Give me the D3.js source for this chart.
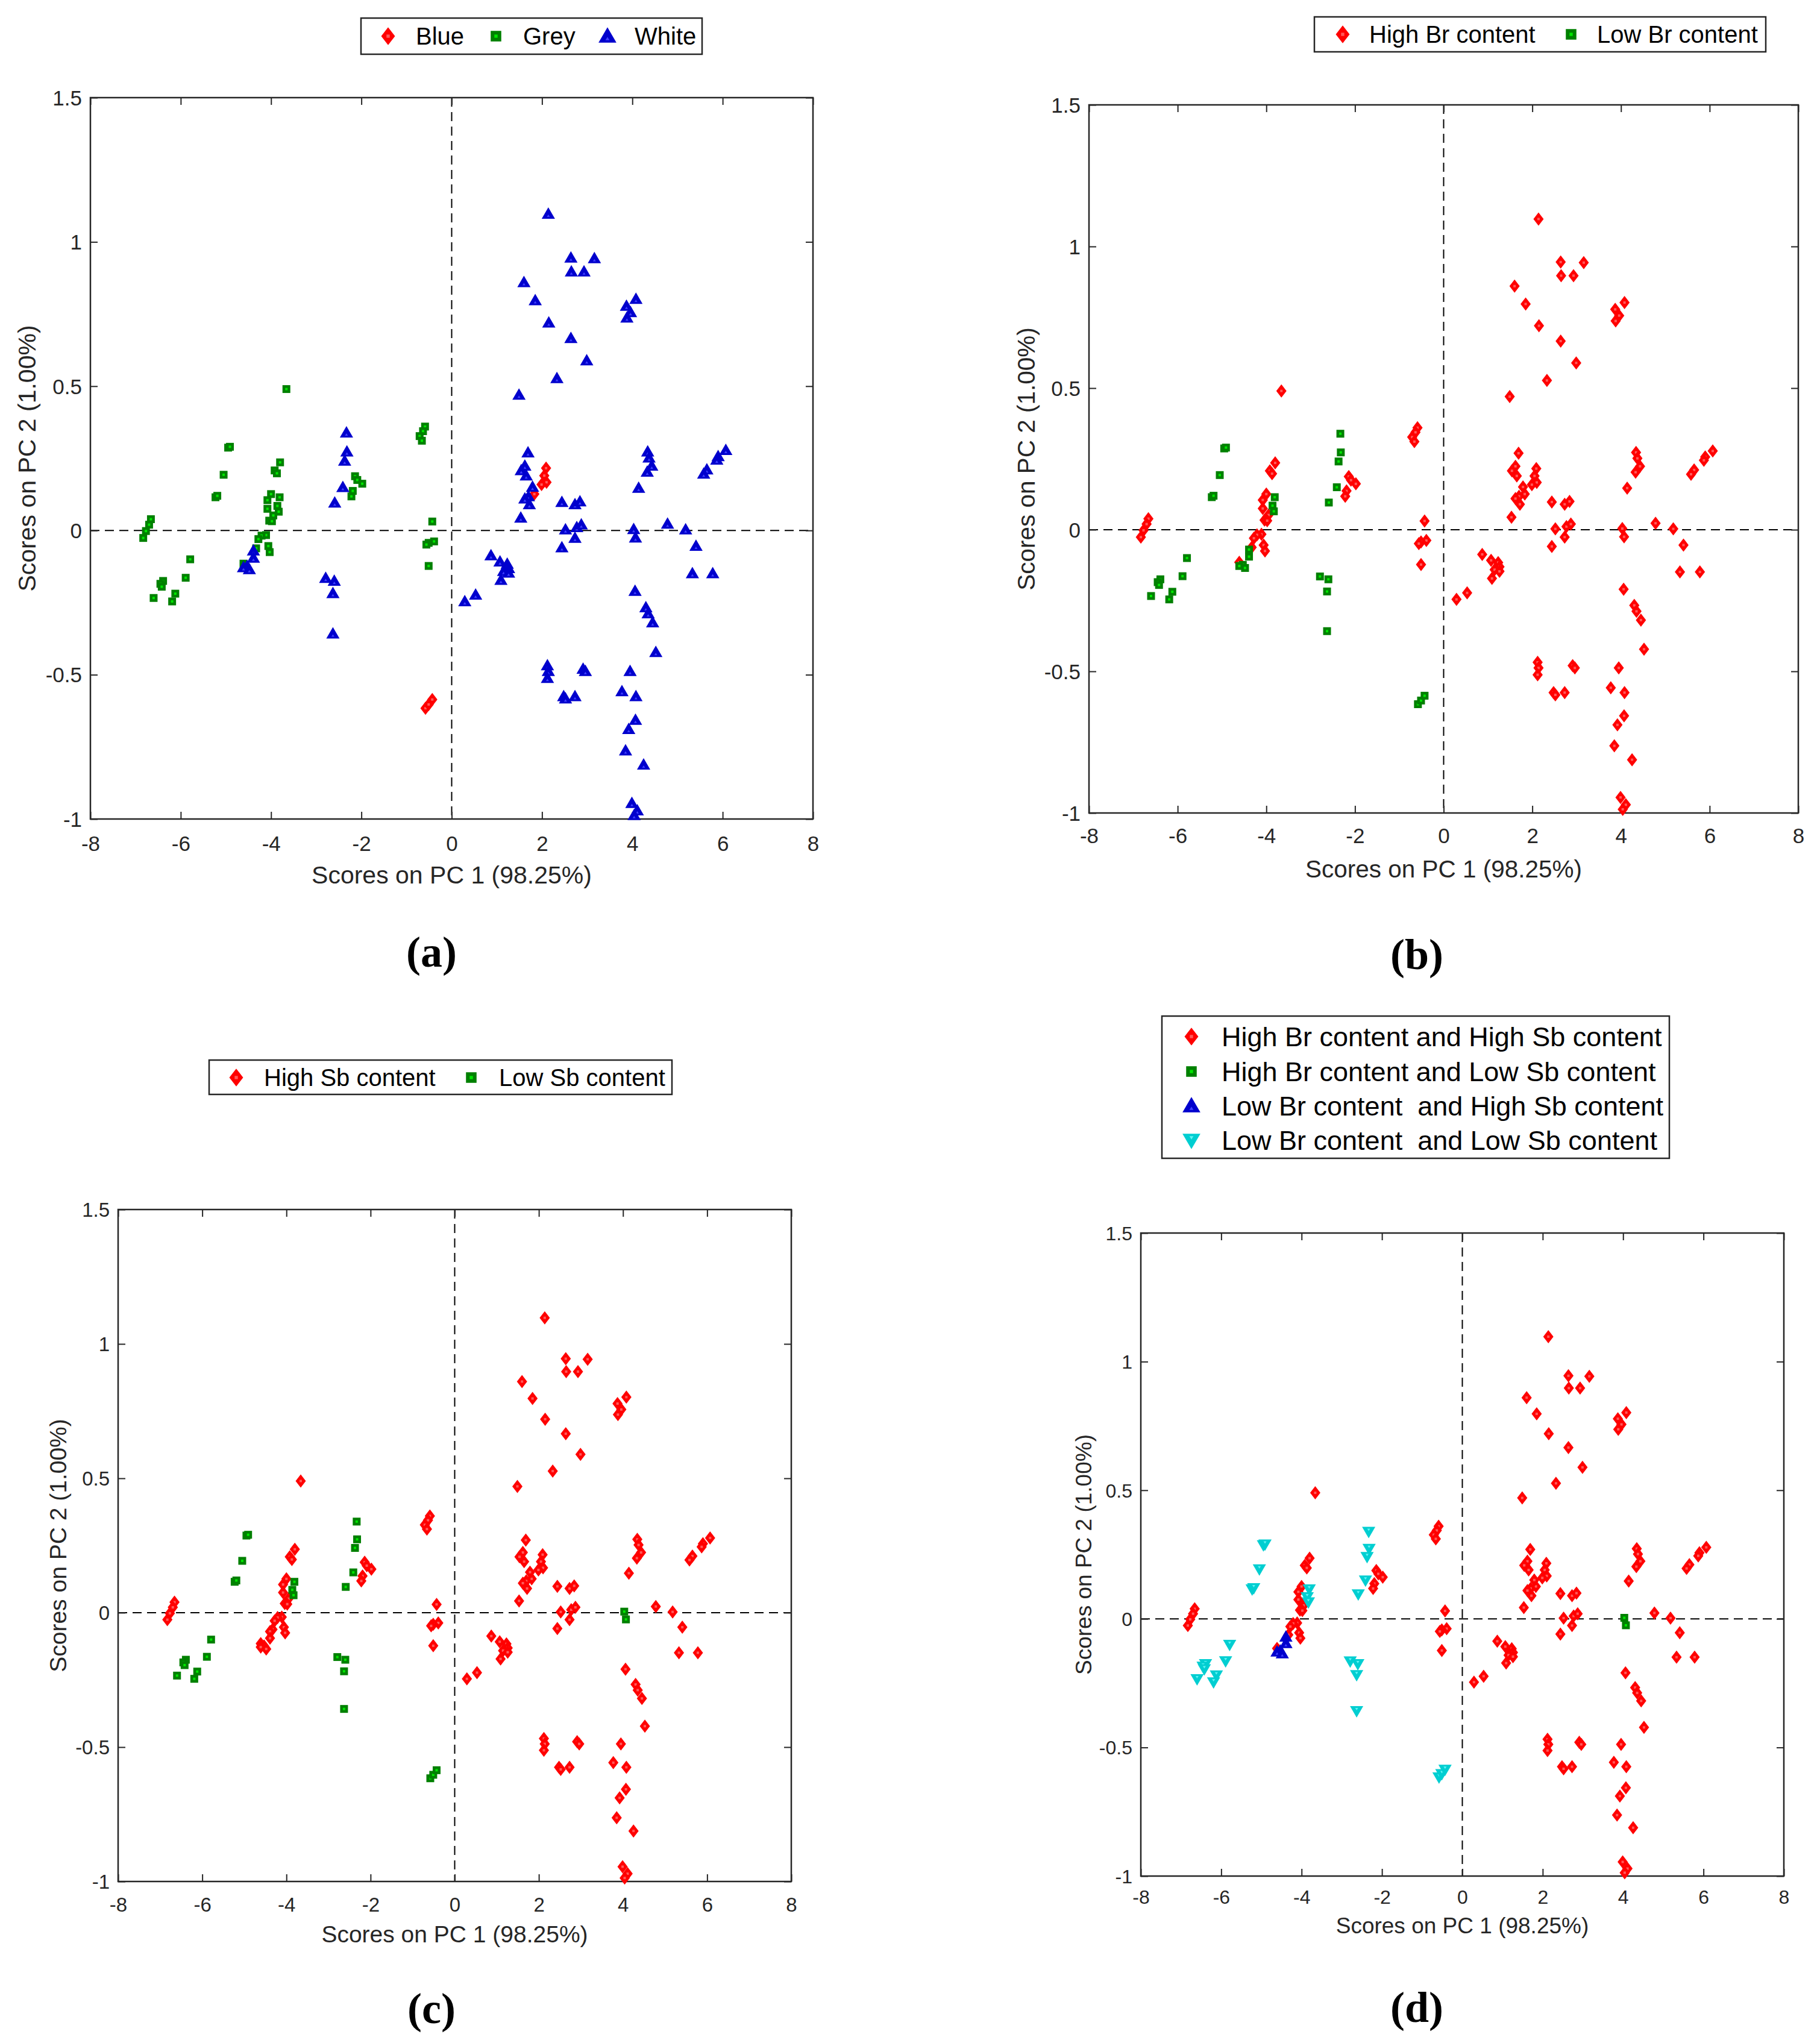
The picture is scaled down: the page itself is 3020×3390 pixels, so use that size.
<!DOCTYPE html>
<html>
<head>
<meta charset="utf-8">
<script src="https://cdn.jsdelivr.net/npm/d3@7"></script>
<style>
  body { margin: 0; background: #fff; }
  text { font-family: "Liberation Sans", Arial, sans-serif; fill: #262626; }
  .tag { font-family: "Liberation Serif", "Times New Roman", serif; font-weight: bold; fill: #000; }
  .leg { fill: #000; white-space: pre; }
</style>
</head>
<body>
<div id="chart"></div>
<script>
const xTicks = [-8, -6, -4, -2, 0, 2, 4, 6, 8];
const yTicks = [-1, -0.5, 0, 0.5, 1, 1.5];

// PCA scores [PC1, PC2], grouped by sample colour (panel a) and Br/Sb class (panel d)
const whiteHH = [
  [2.14, 1.097], [2.64, 0.945], [3.16, 0.943], [2.65, 0.897], [2.93, 0.897], [1.60, 0.86], [1.85, 0.797],
  [4.08, 0.802], [3.87, 0.778], [3.96, 0.756], [3.88, 0.737], [2.15, 0.72], [2.64, 0.666], [2.99, 0.589],
  [2.33, 0.527], [1.49, 0.47], [1.69, 0.27], [1.62, 0.224], [1.54, 0.208], [1.65, 0.19], [1.79, 0.151],
  [1.70, 0.118], [1.62, 0.11], [1.72, 0.09], [1.53, 0.044], [2.44, 0.098], [2.73, 0.09], [2.84, 0.10],
  [2.52, 0.003], [2.77, 0.011], [2.87, 0.02], [2.73, -0.026], [2.44, -0.059], [4.34, 0.273], [4.37, 0.252],
  [4.43, 0.224], [4.33, 0.203], [4.14, 0.147], [6.07, 0.278], [5.90, 0.257], [5.87, 0.245], [5.65, 0.211],
  [5.58, 0.196], [4.78, 0.023], [5.18, 0.003], [5.41, -0.054], [5.33, -0.149], [5.78, -0.149],
  [0.87, -0.087], [1.07, -0.108], [1.23, -0.116], [1.26, -0.131], [1.15, -0.141], [1.09, -0.172],
  [1.26, -0.147], [0.53, -0.223], [0.29, -0.246], [4.06, -0.21], [4.30, -0.267], [4.35, -0.288],
  [4.45, -0.319], [4.52, -0.422], [2.12, -0.468], [2.14, -0.488], [2.12, -0.512], [2.91, -0.48],
  [2.96, -0.488], [3.95, -0.488], [2.48, -0.575], [2.52, -0.583], [2.73, -0.575], [3.77, -0.558],
  [4.08, -0.575], [4.07, -0.657], [3.92, -0.689], [3.85, -0.763], [4.25, -0.812], [3.99, -0.945],
  [4.11, -0.971], [4.04, -0.987]
];
const whiteHL = [[4.03, 0.004], [4.07, -0.025]];
const whiteLH = [[-4.39, -0.07], [-4.39, -0.095], [-4.53, -0.124], [-4.61, -0.128], [-4.48, -0.135]];
const whiteLL = [
  [-2.33, 0.339], [-2.32, 0.273], [-2.37, 0.241], [-2.41, 0.150], [-2.59, 0.096],
  [-2.79, -0.165], [-2.60, -0.175], [-2.63, -0.218], [-2.63, -0.358]
];
const blueHH = [[2.09, 0.216], [2.05, 0.19], [2.10, 0.167], [1.99, 0.159], [1.83, 0.126]];
const blueLL = [[-0.58, -0.616], [-0.51, -0.603], [-0.43, -0.586]];
const greyHH = [
  [-6.66, 0.039], [-6.70, 0.02], [-6.77, -0.002], [-6.83, -0.026], [-3.66, 0.49], [-3.80, 0.236],
  [-3.92, 0.208], [-3.87, 0.198], [-4.00, 0.126], [-4.08, 0.105], [-4.08, 0.075], [-3.95, 0.052],
  [-4.04, 0.034], [-3.98, 0.032], [-4.11, -0.016], [-4.21, -0.018], [-4.28, -0.03], [-4.33, -0.062],
  [-4.06, -0.054], [-4.03, -0.075], [-4.61, -0.115], [-0.59, 0.36], [-0.635, 0.344], [-0.71, 0.327],
  [-0.66, 0.311], [-2.14, 0.188], [-2.09, 0.175], [-1.98, 0.162], [-2.19, 0.137], [-2.22, 0.118],
  [-0.43, 0.031], [-0.39, -0.038], [-0.51, -0.043], [-0.56, -0.049], [-0.51, -0.123]
];
const greyLL = [
  [-5.79, -0.10], [-5.89, -0.164], [-6.39, -0.175], [-6.45, -0.185], [-6.42, -0.195], [-6.60, -0.234],
  [-6.12, -0.219], [-6.19, -0.246], [-4.95, 0.287], [-4.91, 0.29], [-5.05, 0.193], [-5.23, 0.115],
  [-5.19, 0.12], [-3.81, 0.115], [-3.86, 0.085], [-3.83, 0.065]
];

const groups = [
  { pts: blueHH, colour: "Blue", br: "High", sb: "High" },
  { pts: blueLL, colour: "Blue", br: "Low", sb: "Low" },
  { pts: greyHH, colour: "Grey", br: "High", sb: "High" },
  { pts: greyLL, colour: "Grey", br: "Low", sb: "Low" },
  { pts: whiteHH, colour: "White", br: "High", sb: "High" },
  { pts: whiteHL, colour: "White", br: "High", sb: "Low" },
  { pts: whiteLH, colour: "White", br: "Low", sb: "High" },
  { pts: whiteLL, colour: "White", br: "Low", sb: "Low" }
];
const samples = groups.flatMap(g => g.pts.map(p => ({ x: p[0], y: p[1], colour: g.colour, br: g.br, sb: g.sb })));

const styles = {
  diamond: { fill: "#ff0000", inner: "#ff5a5a" },
  square: { fill: "#008000", inner: "#00e600" },
  up: { fill: "#0000cd", inner: "#4040ff" },
  down: { fill: "#00ced1", inner: "#60f4f4" }
};

function markerPath(shape, k) {
  if (shape === "diamond") return `M0,${-11 * k}L${8.5 * k},0L0,${11 * k}L${-8.5 * k},0Z`;
  if (shape === "square") return `M${-6.5 * k},${-6.5 * k}h${13 * k}v${13 * k}h${-13 * k}Z`;
  if (shape === "up") return `M0,${-11 * k}L${11 * k},${8 * k}L${-11 * k},${8 * k}Z`;
  return `M0,${11 * k}L${11 * k},${-8 * k}L${-11 * k},${-8 * k}Z`;
}
function innerPath(shape, k) {
  if (shape === "up") return `M0,${1 * k}L${2.5 * k},${5 * k}L${-2.5 * k},${5 * k}Z`;
  if (shape === "down") return `M0,${-1 * k}L${2.5 * k},${-5 * k}L${-2.5 * k},${-5 * k}Z`;
  return `M${-2 * k},${-2 * k}h${4 * k}v${4 * k}h${-4 * k}Z`;
}

const panels = [
  { tag: "(a)", left: 150, right: 1349, top: 162, bottom: 1359, tickFont: 35, labFont: 41,
    tickGap: 41, xlabGap: 93, ylabGap: 105, tagX: 716, tagY: 1580,
    series: [
      { label: "Blue", shape: "diamond", test: s => s.colour === "Blue" },
      { label: "Grey", shape: "square", test: s => s.colour === "Grey" },
      { label: "White", shape: "up", test: s => s.colour === "White" }
    ],
    legend: { x0: 599, x1: 1165, y0: 30, y1: 90, font: 40,
      items: [{ mx: 644, tx: 690, y: 60 }, { mx: 823, tx: 868, y: 60 }, { mx: 1008, tx: 1053, y: 60 }] } },
  { tag: "(b)", left: 1807, right: 2984, top: 174, bottom: 1349, tickFont: 35, labFont: 40.5,
    tickGap: 38, xlabGap: 93, ylabGap: 104, tagX: 2351, tagY: 1584,
    series: [
      { label: "High Br content", shape: "diamond", test: s => s.br === "High" },
      { label: "Low Br content", shape: "square", test: s => s.br === "Low" }
    ],
    legend: { x0: 2181, x1: 2930, y0: 28, y1: 86, font: 40,
      items: [{ mx: 2228, tx: 2272, y: 57 }, { mx: 2607, tx: 2650, y: 57 }] } },
  { tag: "(c)", left: 196, right: 1313, top: 2007, bottom: 3122, tickFont: 33, labFont: 39,
    tickGap: 38, xlabGap: 87, ylabGap: 100, tagX: 716, tagY: 3333,
    series: [
      { label: "High Sb content", shape: "diamond", test: s => s.sb === "High" },
      { label: "Low Sb content", shape: "square", test: s => s.sb === "Low" }
    ],
    legend: { x0: 347, x1: 1115, y0: 1759, y1: 1816, font: 40,
      items: [{ mx: 392, tx: 438, y: 1788 }, { mx: 782, tx: 828, y: 1788 }] } },
  { tag: "(d)", left: 1893, right: 2960, top: 2046, bottom: 3113, tickFont: 32, labFont: 37,
    tickGap: 35, xlabGap: 82, ylabGap: 95, tagX: 2351, tagY: 3331,
    series: [
      { label: "High Br content and High Sb content", shape: "diamond", test: s => s.br === "High" && s.sb === "High" },
      { label: "High Br content and Low Sb content", shape: "square", test: s => s.br === "High" && s.sb === "Low" },
      { label: "Low Br content  and High Sb content", shape: "up", test: s => s.br === "Low" && s.sb === "High" },
      { label: "Low Br content  and Low Sb content", shape: "down", test: s => s.br === "Low" && s.sb === "Low" }
    ],
    legend: { x0: 1928, x1: 2770, y0: 1686, y1: 1922, font: 45,
      items: [{ mx: 1977, tx: 2027, y: 1720 }, { mx: 1977, tx: 2027, y: 1778 },
              { mx: 1977, tx: 2027, y: 1835 }, { mx: 1977, tx: 2027, y: 1892 }] } }
];

const svg = d3.select("#chart").append("svg")
  .attr("width", 3020).attr("height", 3390)
  .style("display", "block");

function drawMarker(g, shape, x, y, k) {
  const st = styles[shape];
  const m = g.append("g").attr("transform", `translate(${x},${y})`);
  m.append("path").attr("d", markerPath(shape, k)).attr("fill", st.fill);
  m.append("path").attr("d", innerPath(shape, k)).attr("fill", st.inner);
}

panels.forEach(p => {
  const x = d3.scaleLinear().domain([-8, 8]).range([p.left, p.right]);
  const y = d3.scaleLinear().domain([-1, 1.5]).range([p.bottom, p.top]);
  const g = svg.append("g");

  // zero lines
  g.append("line").attr("x1", x(0)).attr("x2", x(0)).attr("y1", p.top).attr("y2", p.bottom)
    .attr("stroke", "#000").attr("stroke-width", 2).attr("stroke-dasharray", "15,9");
  g.append("line").attr("x1", p.left).attr("x2", p.right).attr("y1", y(0)).attr("y2", y(0))
    .attr("stroke", "#000").attr("stroke-width", 2).attr("stroke-dasharray", "15,9");

  // axes with inward ticks on all sides
  const tick = 12;
  const axes = [
    d3.axisBottom(x).tickValues(xTicks).tickSizeInner(-tick).tickSizeOuter(0).tickFormat(d => String(d)),
    d3.axisTop(x).tickValues(xTicks).tickSizeInner(-tick).tickSizeOuter(0).tickFormat(""),
    d3.axisLeft(y).tickValues(yTicks).tickSizeInner(-tick).tickSizeOuter(0).tickFormat(d => String(d)),
    d3.axisRight(y).tickValues(yTicks).tickSizeInner(-tick).tickSizeOuter(0).tickFormat("")
  ];
  const pos = [`translate(0,${p.bottom})`, `translate(0,${p.top})`, `translate(${p.left},0)`, `translate(${p.right},0)`];
  axes.forEach((ax, i) => {
    const a = g.append("g").attr("transform", pos[i]).call(ax);
    a.select(".domain").remove();
    a.selectAll(".tick line").attr("stroke", "#262626").attr("stroke-width", 2);
    a.selectAll(".tick text").attr("fill", "#262626")
      .style("font-family", '"Liberation Sans", Arial, sans-serif')
      .style("font-size", p.tickFont + "px");
    if (i === 0) a.selectAll(".tick text").attr("y", p.tickGap).attr("dy", "0.35em");
    if (i === 2) a.selectAll(".tick text").attr("x", -14).attr("dy", "0.35em");
  });
  g.append("rect").attr("x", p.left).attr("y", p.top)
    .attr("width", p.right - p.left).attr("height", p.bottom - p.top)
    .attr("fill", "none").attr("stroke", "#262626").attr("stroke-width", 2.5);

  // points
  p.series.forEach(s => {
    samples.filter(s.test).forEach(d => drawMarker(g, s.shape, x(d.x), y(d.y), 1));
  });

  // labels
  g.append("text").attr("x", (p.left + p.right) / 2).attr("y", p.bottom + p.xlabGap)
    .attr("dy", "0.35em").attr("text-anchor", "middle").style("font-size", p.labFont + "px")
    .text("Scores on PC 1 (98.25%)");
  const cy = (p.top + p.bottom) / 2;
  g.append("text").attr("transform", `translate(${p.left - p.ylabGap},${cy}) rotate(-90)`)
    .attr("dy", "0.35em").attr("text-anchor", "middle").style("font-size", p.labFont + "px")
    .text("Scores on PC 2 (1.00%)");
  g.append("text").attr("class", "tag").attr("x", p.tagX).attr("y", p.tagY)
    .attr("dy", "0.33em").attr("text-anchor", "middle").style("font-size", "72px")
    .text(p.tag);

  // legend
  const L = p.legend;
  g.append("rect").attr("x", L.x0).attr("y", L.y0).attr("width", L.x1 - L.x0).attr("height", L.y1 - L.y0)
    .attr("fill", "#fff").attr("stroke", "#262626").attr("stroke-width", 2.5);
  p.series.forEach((s, i) => {
    const it = L.items[i];
    drawMarker(g, s.shape, it.mx, it.y, 1.35);
    g.append("text").attr("class", "leg").attr("x", it.tx).attr("y", it.y).attr("dy", "0.35em")
      .style("font-size", L.font + "px").text(s.label);
  });
});
</script>
</body>
</html>
